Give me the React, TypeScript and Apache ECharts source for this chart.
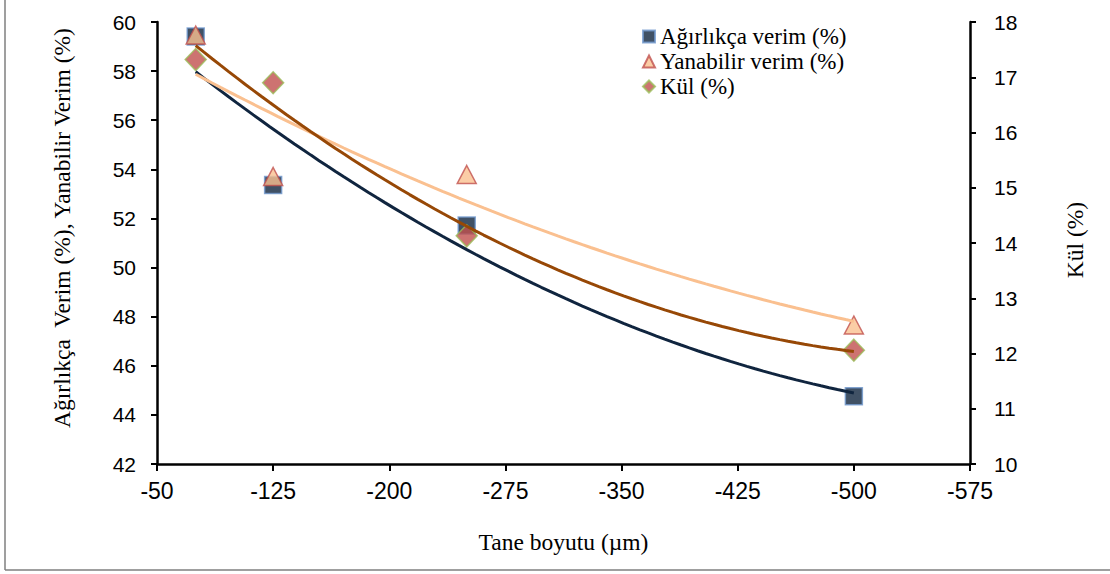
import React, { useEffect, useRef } from "react";
import * as echarts from "echarts";

// Particle size (µm), plotted as negative values like in the source chart
const sizes = [-75, -125, -250, -500];
const agirlikcaVerim = [59.41, 53.36, 51.71, 44.76];
const yanabilirVerim = [59.47, 53.71, 53.79, 47.66];
const kul = [17.32, 16.9, 14.13, 12.06];

const xMin = -575;
const xMax = -50;
const xStep = 75;

const seriesNames = ["Ağırlıkça verim (%)", "Yanabilir verim (%)", "Kül (%)"];

// x value -> axis coordinate (axis runs 0..525 so ticks fall on multiples of the step)
const toAxis = (x: number) => xMax - x;
const fromAxis = (v: number) => xMax - v;

// second order polynomial least-squares trendline (as in the spreadsheet)
function polyFit2(xs: number[], ys: number[]) {
  const n = xs.length;
  let s0 = n, s1 = 0, s2 = 0, s3 = 0, s4 = 0, t0 = 0, t1 = 0, t2 = 0;
  for (let i = 0; i < n; i++) {
    const x = xs[i] / 100;
    const y = ys[i];
    s1 += x; s2 += x * x; s3 += x * x * x; s4 += x * x * x * x;
    t0 += y; t1 += x * y; t2 += x * x * y;
  }
  const A = [
    [s0, s1, s2, t0],
    [s1, s2, s3, t1],
    [s2, s3, s4, t2],
  ];
  for (let c = 0; c < 3; c++) {
    for (let r = c + 1; r < 3; r++) {
      const f = A[r][c] / A[c][c];
      for (let k = c; k < 4; k++) A[r][k] -= f * A[c][k];
    }
  }
  const coef = [0, 0, 0];
  for (let r = 2; r >= 0; r--) {
    let s = A[r][3];
    for (let k = r + 1; k < 3; k++) s -= A[r][k] * coef[k];
    coef[r] = s / A[r][r];
  }
  return (x: number) => {
    const u = x / 100;
    return coef[0] + coef[1] * u + coef[2] * u * u;
  };
}

function trendPoints(xs: number[], ys: number[]) {
  const f = polyFit2(xs, ys);
  const lo = Math.min(...xs);
  const hi = Math.max(...xs);
  const pts: number[][] = [];
  const steps = 80;
  for (let i = 0; i <= steps; i++) {
    const x = hi - ((hi - lo) * i) / steps;
    pts.push([toAxis(x), f(x)]);
  }
  return pts;
}

export default function App() {
  const ref = useRef<HTMLDivElement>(null);

  useEffect(() => {
    if (!ref.current) return;
    const chart = echarts.init(ref.current, undefined, { renderer: "svg" });

    const pair = (ys: number[]) => sizes.map((x, i) => [toAxis(x), ys[i]]);

    const serif = "'Liberation Serif', 'Times New Roman', serif";
    const sans = "'Liberation Sans', Arial, sans-serif";

    chart.setOption({
      animation: false,
      backgroundColor: "#ffffff",
      grid: { left: 157, right: 140, top: 22, bottom: 110, containLabel: false },
      legend: {
        data: seriesNames,
        orient: "vertical",
        left: 637,
        top: 20,
        itemWidth: 12,
        itemHeight: 12,
        itemGap: 2,
        textStyle: { fontFamily: serif, fontSize: 23, color: "#000" },
      },
      xAxis: {
        type: "value",
        min: toAxis(xMax),
        max: toAxis(xMin),
        interval: xStep,
        name: "Tane boyutu (µm)",
        nameLocation: "middle",
        nameGap: 66,
        nameTextStyle: { fontFamily: serif, fontSize: 23.5, color: "#000" },
        axisLine: { show: true, onZero: false, lineStyle: { color: "#000", width: 2.5 } },
        axisTick: { show: true, inside: false, length: 7, lineStyle: { color: "#000", width: 2 } },
        axisLabel: {
          fontFamily: sans,
          fontSize: 23,
          color: "#000",
          margin: 15,
          formatter: (v: number) => String(fromAxis(v)),
        },
        splitLine: { show: false },
      },
      yAxis: [
        {
          type: "value",
          min: 42,
          max: 60,
          interval: 2,
          position: "left",
          name: "Ağırlıkça  Verim (%), Yanabilir Verim (%)",
          nameLocation: "middle",
          nameRotate: 90,
          nameGap: 83,
          nameTextStyle: { fontFamily: serif, fontSize: 23.5, color: "#000", padding: [0, 0, 0, 30] },
          axisLine: { show: true, lineStyle: { color: "#000", width: 2.5 } },
          axisTick: { show: true, length: 6, lineStyle: { color: "#000", width: 2 } },
          axisLabel: { fontFamily: sans, fontSize: 21, color: "#000", margin: 21 },
          splitLine: { show: false },
        },
        {
          type: "value",
          min: 10,
          max: 18,
          interval: 1,
          position: "right",
          name: "Kül (%)",
          nameLocation: "middle",
          nameRotate: 90,
          nameGap: 93,
          nameTextStyle: { fontFamily: serif, fontSize: 23.5, color: "#000", padding: [0, 0, 0, 6] },
          axisLine: { show: true, lineStyle: { color: "#000", width: 2.5 } },
          axisTick: { show: true, length: 6, lineStyle: { color: "#000", width: 2 } },
          axisLabel: { fontFamily: sans, fontSize: 21, color: "#000", margin: 24 },
          splitLine: { show: false },
        },
      ],
      series: [
        {
          name: seriesNames[0],
          type: "scatter",
          yAxisIndex: 0,
          symbol: "rect",
          symbolSize: 17,
          data: pair(agirlikcaVerim),
          itemStyle: { color: "#10253F", borderColor: "#6F97CD", borderWidth: 1.5 },
          z: 3,
        },
        {
          name: seriesNames[1],
          type: "scatter",
          yAxisIndex: 0,
          symbol: "triangle",
          symbolSize: [19, 18],
          data: pair(yanabilirVerim),
          itemStyle: { color: "#FAC090", borderColor: "#C0504D", borderWidth: 1.5 },
          z: 4,
        },
        {
          name: seriesNames[2],
          type: "scatter",
          yAxisIndex: 1,
          symbol: "diamond",
          symbolSize: [21, 22],
          data: pair(kul),
          itemStyle: { color: "#C0504D", borderColor: "#9BBB59", borderWidth: 1.5 },
          z: 5,
        },
        {
          name: "trend-agirlikca",
          type: "line",
          yAxisIndex: 0,
          data: trendPoints(sizes, agirlikcaVerim),
          showSymbol: false,
          symbol: "none",
          lineStyle: { color: "#10253F", width: 3 },
          silent: true,
          z: 6,
        },
        {
          name: "trend-yanabilir",
          type: "line",
          yAxisIndex: 0,
          data: trendPoints(sizes, yanabilirVerim),
          showSymbol: false,
          symbol: "none",
          lineStyle: { color: "#FAC090", width: 3 },
          silent: true,
          z: 6,
        },
        {
          name: "trend-kul",
          type: "line",
          yAxisIndex: 1,
          data: trendPoints(sizes, kul),
          showSymbol: false,
          symbol: "none",
          lineStyle: { color: "#974806", width: 3 },
          silent: true,
          z: 7,
        },
      ],
      graphic: [
        {
          type: "line",
          shape: { x1: 5, y1: 0, x2: 5, y2: 570 },
          style: { stroke: "#7f7f7f", lineWidth: 1.5 },
          silent: true,
        },
        {
          type: "line",
          shape: { x1: 5, y1: 570, x2: 1110, y2: 570 },
          style: { stroke: "#7f7f7f", lineWidth: 1.5 },
          silent: true,
        },
      ],
    });

    return () => chart.dispose();
  }, []);

  return (
    <div
      ref={ref}
      style={{ position: "absolute", left: 0, top: 0, width: 1110, height: 574, background: "#fff" }}
    />
  );
}
